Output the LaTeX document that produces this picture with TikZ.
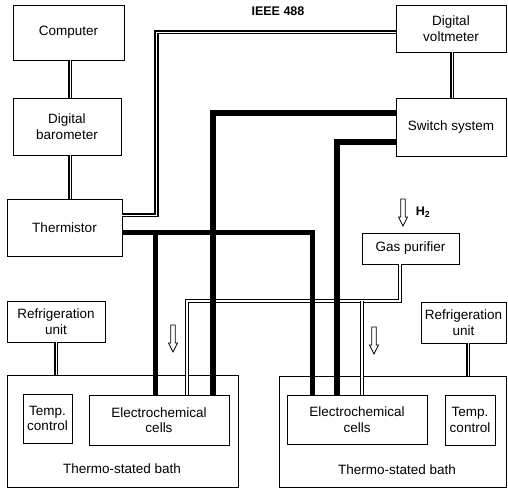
\documentclass[tikz,border=0pt]{standalone}
\usepackage{fontspec}
\setmainfont{Liberation Sans}
\begin{document}
\begin{tikzpicture}[
        x=1pt, y=-1pt,
        font=\fontsize{13.5}{15.5}\selectfont,
        box/.style={rectangle, draw, line width=0.9pt, align=center, inner sep=1pt},
        dbl/.style={double, double distance=0.8pt, line width=1.6pt},
        bus/.style={double, double distance=0.8pt, line width=1.8pt},
        sig/.style={line width=5pt},
        sigw/.style={line width=6.5pt},
        gas/.style={double, double distance=1.3pt, line width=0.9pt},
        hollow/.pic={\draw[line width=0.8pt, fill=white] (-2.2,0) -- (-2.2,18) -- (-4.5,18) -- (0,27) -- (4.5,18) -- (2.2,18) -- (2.2,0) -- cycle;}
    ]
        \useasboundingbox (0,0) rectangle (508,490);

        % Instruments
        \node[box, minimum width=111pt, minimum height=55pt] (comp) at (68.5,32.5) {Computer};
        \node[box, minimum width=108pt, minimum height=57pt] (baro) at (67,126.5) {Digital\\barometer};
        \node[box, minimum width=115pt, minimum height=57pt] (therm) at (64.5,227.5) {Thermistor};
        \node[box, minimum width=110pt, minimum height=47pt] (dvm) at (451,28.5) {Digital\\voltmeter};
        \node[box, minimum width=110pt, minimum height=58pt] (switch) at (451,127) {Switch system};
        \node[box, minimum width=97pt, minimum height=31pt] (purifier) at (410.5,248.5) {Gas purifier};
        \node[font=\fontsize{12.5}{14}\selectfont\bfseries] (ieee) at (278,11) {IEEE 488};
        \node[font=\fontsize{12.5}{14}\selectfont\bfseries] (htwo) at (423,212) {H\textsubscript{2}};

        % Left bath
        \node[box, minimum width=98pt, minimum height=41pt] (refrigL) at (56,321.5) {Refrigeration\\unit};
        \node[box, minimum width=231pt, minimum height=112pt] (bathL) at (122.5,431) {};
        \node[box, minimum width=49pt, minimum height=49pt] (tempL) at (47.5,418.5) {Temp.\\control};
        \node[box, minimum width=140pt, minimum height=50pt] (cellsL) at (159,420) {Electrochemical\\cells};
        \node (bathLtext) at (122,469) {Thermo-stated bath};

        % Right bath
        \node[box, minimum width=85pt, minimum height=41pt] (refrigR) at (463.5,322.5) {Refrigeration\\unit};
        \node[box, minimum width=227pt, minimum height=111pt] (bathR) at (392.5,431.5) {};
        \node[box, minimum width=140pt, minimum height=49pt] (cellsR) at (357,419.5) {Electrochemical\\cells};
        \node[box, minimum width=50pt, minimum height=50pt] (tempR) at (470,420) {Temp.\\control};
        \node (bathRtext) at (397,470) {Thermo-stated bath};

        % Double links
        \draw[dbl] ([xshift=1.5pt]comp.south) -- ([xshift=1.5pt]comp.south |- baro.north);
        \draw[dbl] ([xshift=1.5pt]comp.south |- baro.south) -- ([xshift=1.5pt]comp.south |- therm.north);
        \draw[dbl] ([xshift=1pt]dvm.south) -- ([xshift=1pt]switch.north);
        \draw[dbl] (refrigL.south) -- (refrigL.south |- bathL.north);
        \draw[dbl] ([xshift=4.5pt]refrigR.south) -- ([xshift=4.5pt]refrigR.south |- bathR.north);

        % Gas lines
        \coordinate (gasjoint) at (362,301);
        \draw[gas] ([xshift=-10.5pt]purifier.south) |- (gasjoint) -| ([xshift=28pt]cellsL.north);
        \draw[gas] (gasjoint) -- ([xshift=5pt]cellsR.north);

        % IEEE bus
        \draw[bus] ([yshift=12.5pt]therm.east) -- ++(34,0) |- ([yshift=-3.5pt]dvm.west);

        % Signal lines
        \draw[sig] ([yshift=-4.5pt]therm.east) -| ([xshift=-45pt]cellsR.north);
        \draw[sig] ([xshift=-4pt]cellsL.north) -- ++(0,-163);
        \draw[sigw] ([yshift=14pt]switch.west) -| ([xshift=54pt]cellsL.north);
        \draw[sigw] ([yshift=-15pt]switch.west) -| ([xshift=-20pt]cellsR.north);

        % Flow arrows
        \pic at (403,199) {hollow};
        \pic at (173,325) {hollow};
        \pic at (374,327) {hollow};
    \end{tikzpicture}
\end{document}
